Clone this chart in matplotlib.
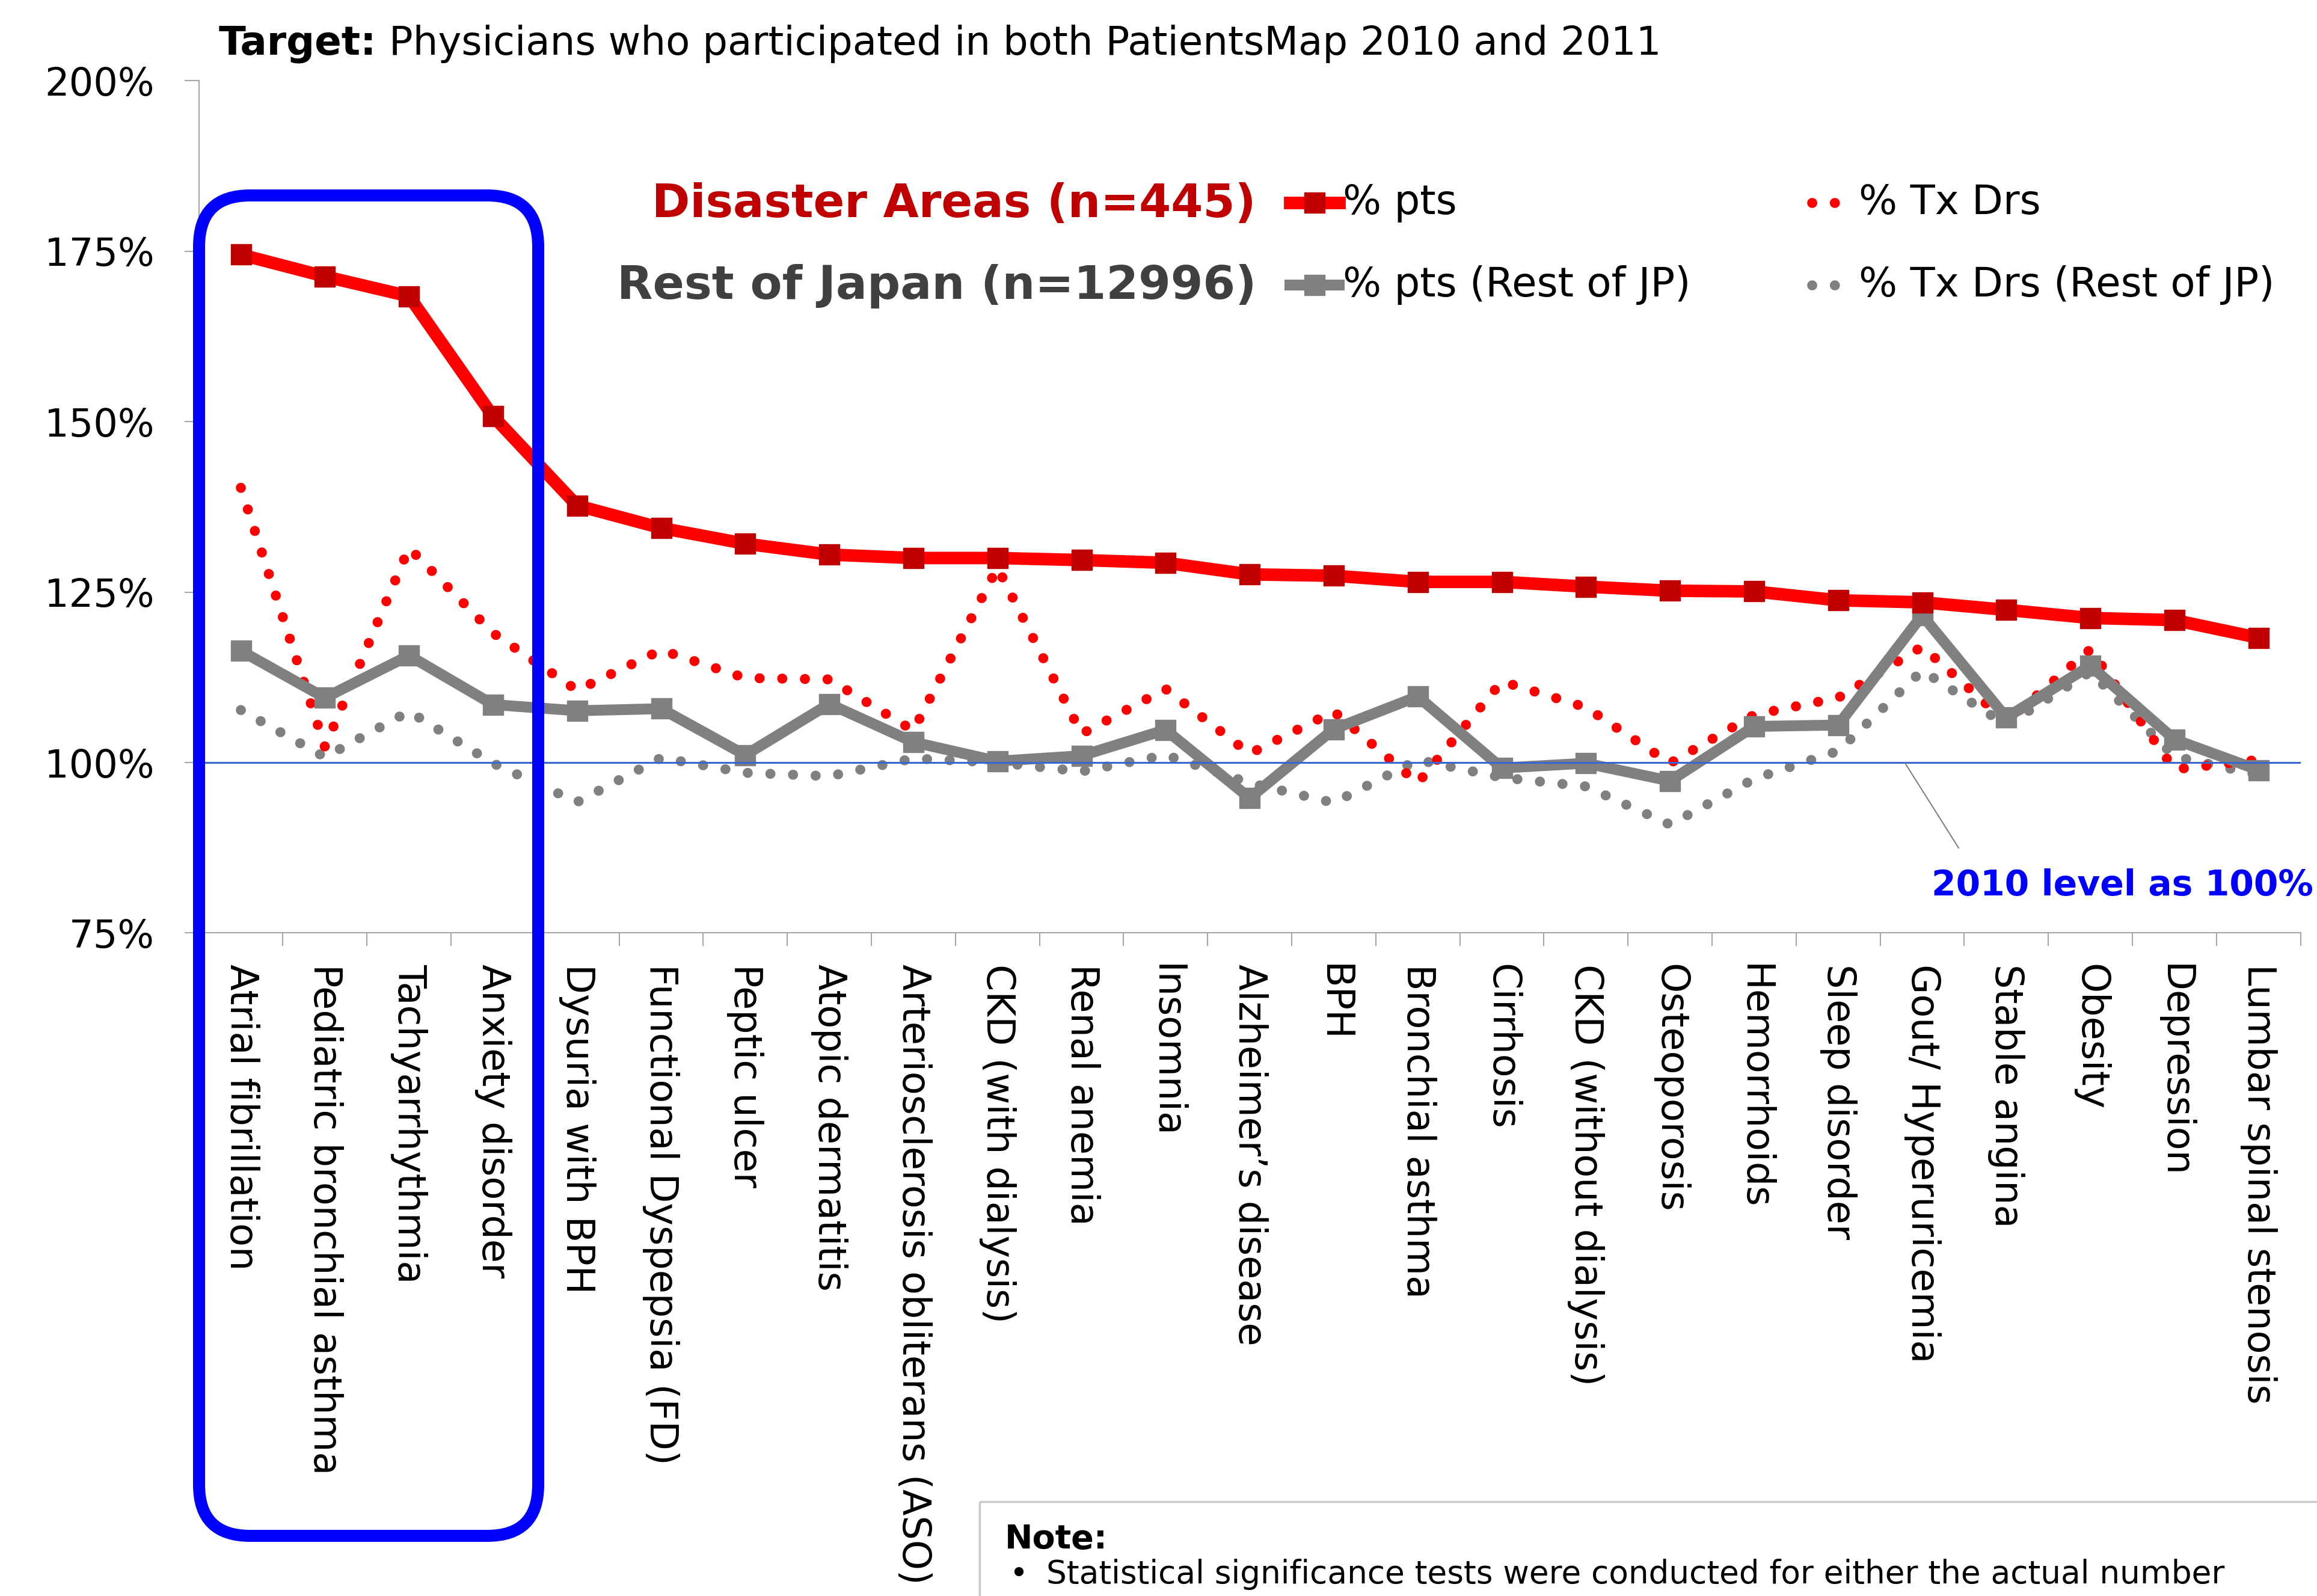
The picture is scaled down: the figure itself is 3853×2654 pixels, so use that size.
import matplotlib
matplotlib.use("Agg")
import matplotlib.pyplot as plt
from matplotlib.patches import FancyBboxPatch, Rectangle
from matplotlib.ticker import PercentFormatter
import numpy as np

# 2011 vs 2010 (2010 = 100%), sorted by disaster-area % pts
categories = [
    "Atrial fibrillation", "Pediatric bronchial asthma", "Tachyarrhythmia",
    "Anxiety disorder", "Dysuria with BPH", "Functional Dyspepsia (FD)",
    "Peptic ulcer", "Atopic dermatitis", "Arteriosclerosis obliterans (ASO)",
    "CKD (with dialysis)", "Renal anemia", "Insomnia", "Alzheimer\u2019s disease",
    "BPH", "Bronchial asthma", "Cirrhosis", "CKD (without dialysis)",
    "Osteoporosis", "Hemorrhoids", "Sleep disorder", "Gout/ Hyperuricemia",
    "Stable angina", "Obesity", "Depression", "Lumbar spinal stenosis",
]
pts_disaster = [174.5, 171.3, 168.4, 150.8, 137.7, 134.4, 132.1, 130.5, 130.0,
                130.0, 129.7, 129.3, 127.6, 127.4, 126.5, 126.5, 125.8, 125.2,
                125.1, 123.8, 123.5, 122.4, 121.2, 120.9, 118.3]
txdrs_disaster = [140.3, 102.3, 131.5, 119.0, 110.6, 116.5, 112.4, 112.2, 104.7,
                  128.6, 104.2, 110.8, 101.3, 107.5, 97.0, 111.9, 108.1, 99.9,
                  107.0, 109.5, 117.0, 106.0, 116.6, 99.0, 100.4]
pts_rest = [116.4, 109.5, 115.7, 108.5, 107.6, 107.9, 101.1, 108.6, 103.0, 100.2,
            101.0, 104.8, 94.8, 104.9, 109.7, 99.2, 99.9, 97.3, 105.3, 105.5,
            121.6, 106.6, 114.2, 103.4, 98.9]
txdrs_rest = [107.7, 100.8, 107.5, 99.9, 94.2, 100.7, 98.5, 98.0, 100.6, 100.0,
              98.7, 101.1, 97.0, 94.1, 100.4, 97.8, 96.5, 90.9, 97.6, 101.7,
              113.5, 105.5, 113.3, 100.9, 98.2]

W, H = 3853, 2654
DPI = 100
plt.rcParams['font.family'] = ['DejaVu Sans']
fig = plt.figure(figsize=(W / DPI, H / DPI), dpi=DPI)

ax = fig.add_axes([330.6 / W, 1 - 1551.5 / H, 3495 / W, (1551.5 - 134.3) / H])
x = np.arange(len(categories))

dots = dict(lw=12, ls=(0, (0.01, 2.25)), dash_capstyle='round')
ax.plot(x, txdrs_rest, color='#808080', zorder=2, **dots)
ax.plot(x, txdrs_disaster, color='#FF0000', zorder=3, **dots)
ax.plot(x, pts_rest, color='#808080', lw=13, marker='s', ms=24,
        mfc='#808080', mec='#808080', zorder=4)
ax.plot(x, pts_disaster, color='#FF0000', lw=15, marker='s', ms=24.5,
        mfc='#C00000', mec='#C00000', zorder=5)
ax.axhline(100, color='#3A66D0', lw=2.2, zorder=6)

ax.set_xlim(-0.5, len(categories) - 0.5)
ax.set_ylim(75, 200)
ax.set_yticks(np.arange(75, 201, 25))
ax.yaxis.set_major_formatter(PercentFormatter(decimals=0))
ax.set_xticks(x)
ax.set_xticklabels(categories, rotation=270, fontsize=45.8, ha='center', va='top')
ax.set_xticks(np.arange(-0.5, len(categories), 1), minor=True)
ax.tick_params(axis='x', which='major', length=0, pad=37)
ax.tick_params(axis='x', which='minor', length=16, width=1.5, color='#A6A6A6')
ax.tick_params(axis='y', length=17, width=1.5, color='#A6A6A6', pad=36, labelsize=46)
for s in ('top', 'right'):
    ax.spines[s].set_visible(False)
for s in ('left', 'bottom'):
    ax.spines[s].set_color('#A6A6A6')
    ax.spines[s].set_linewidth(1.5)

# overlay in pixel units for annotations
ov = fig.add_axes([0, 0, 1, 1], zorder=10)
ov.set_xlim(0, W)
ov.set_ylim(H, 0)
ov.axis('off')
ov.patch.set_alpha(0)

# title
t1 = ov.text(364, 73, "Target:", fontsize=47.3, fontweight='bold', va='center')
ov.annotate(" Physicians who participated in both PatientsMap 2010 and 2011",
            xy=(1, 0), xycoords=t1, fontsize=47.3, va='bottom')

# legend
ov.text(2089, 340, "Disaster Areas (n=445)", ha='right', va='center',
        fontsize=55, fontweight='bold', color='#C00000')
ov.text(2089, 476, "Rest of Japan (n=12996)", ha='right', va='center',
        fontsize=55.5, fontweight='bold', color='#404040')
ov.plot([2145, 2227], [337, 337], color='#FF0000', lw=15)
ov.plot([2186], [337], 's', ms=24.5, color='#C00000')
ov.text(2233, 337, "% pts", va='center', fontsize=48.5)
ov.plot([3013, 3051], [337, 337], color='#FF0000', **dots)
ov.text(3091, 337, "% Tx Drs", va='center', fontsize=48.5)
ov.plot([2145, 2227], [474, 474], color='#808080', lw=13)
ov.plot([2186], [474], 's', ms=24, color='#808080')
ov.text(2233, 474, "% pts (Rest of JP)", va='center', fontsize=48.5)
ov.plot([3013, 3051], [474, 474], color='#808080', **dots)
ov.text(3091, 474, "% Tx Drs (Rest of JP)", va='center', fontsize=48.5)

# 100% reference label
ov.plot([3168, 3257], [1269, 1410], color='#808080', lw=1.5)
ov.text(3847, 1472, "2010 level as 100%", ha='right', va='center',
        fontsize=42, fontweight='bold', color='#0000FF')

# highlight box
r = 85
ov.add_patch(FancyBboxPatch((331 + r, 325 + r), 564 - 2 * r, 2229 - 2 * r,
                            boxstyle=f"round,pad={r},rounding_size={r}",
                            fill=False, edgecolor='#0000FF', lw=14.4))

# note box
ov.add_patch(Rectangle((1629, 2497), 2400, 400, fill=False,
                       edgecolor='#C8C8C8', lw=2.5))
ov.text(1671, 2560, "Note:", fontsize=40, fontweight='bold', va='center')
ov.text(1678, 2618, "\u2022", fontsize=38, va='center')
ov.text(1740, 2618, "Statistical significance tests were conducted for either the actual number",
        fontsize=38.3, va='center')

fig.savefig("out.png", dpi=DPI)
